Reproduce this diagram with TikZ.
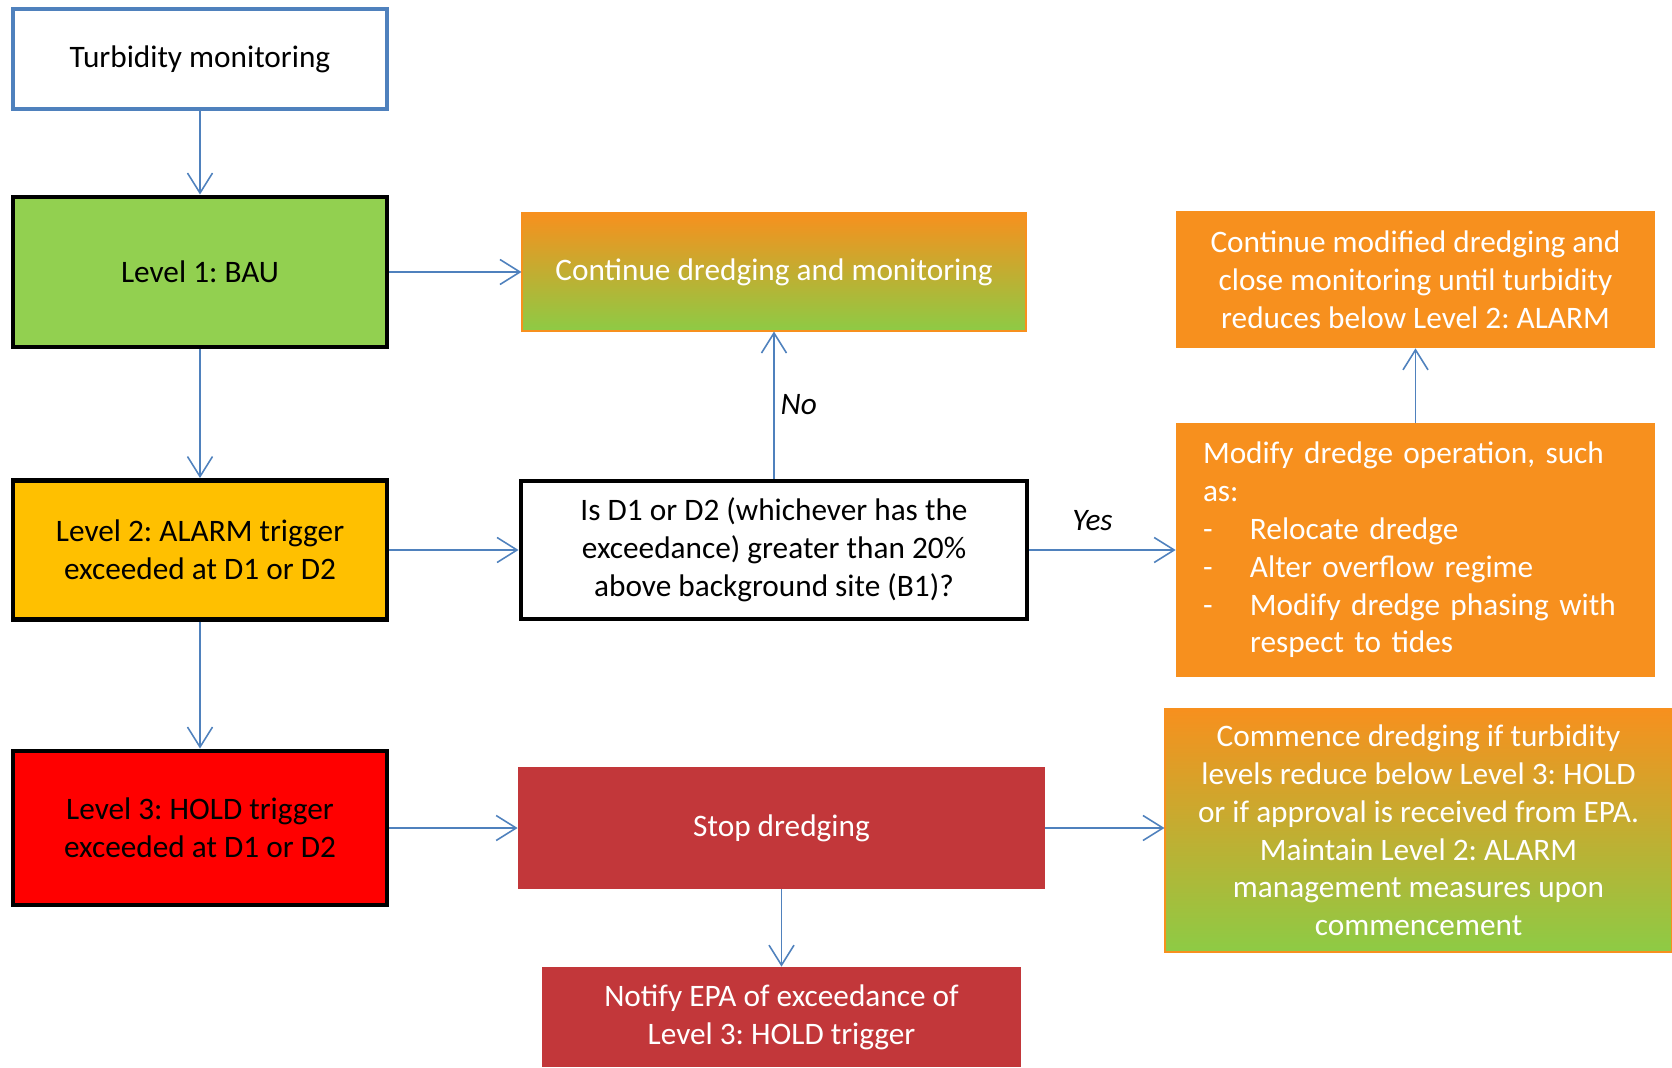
\documentclass[tikz,border=0pt]{standalone}
\usepackage{fontspec}
\setmainfont{Carlito}
\frenchspacing
\usetikzlibrary{arrows.meta}
\definecolor{lineblue}{HTML}{4F81BD}
\definecolor{bauGreen}{HTML}{92D050}
\definecolor{alarmAmber}{HTML}{FFC000}
\definecolor{holdRed}{HTML}{FF0000}
\definecolor{actOrange}{HTML}{F7901E}
\definecolor{actGreen}{HTML}{8DCB45}
\definecolor{stopRed}{HTML}{C2373A}
\tikzstyle{monitor} = [rectangle, minimum width = 7.48cm, minimum height = 2cm, text centered, draw = lineblue, line width = 2.3pt, fill = white]
\tikzstyle{level} = [rectangle, minimum width = 7.48cm, align = center, draw = black, line width = 2.8pt]
\tikzstyle{question} = [rectangle, minimum width = 10.12cm, minimum height = 2.76cm, align = center, draw = black, line width = 2.8pt, fill = white]
\tikzstyle{goon} = [rectangle, top color = actOrange, middle color = actOrange!55!actGreen, bottom color = actGreen, draw = actOrange, line width = 0.6pt, text = white, align = center]
\tikzstyle{modify} = [rectangle, minimum width = 9.58cm, fill = actOrange, text = white]
\tikzstyle{halt} = [rectangle, fill = stopRed, text = white, align = center]
\tikzstyle{arrow} = [draw = lineblue, line width = 0.9pt, -{Straight Barb[length = 0.4cm, width = 0.5cm]}]

\begin{document}
\begin{tikzpicture}[node distance = 5.56cm, font = \fontsize{17.8}{21.5}\selectfont]
    \useasboundingbox (0,0) rectangle (33.44,-21.36);
    % levels on the left
    \node(turb)[monitor] at (4,-1.18){Turbidity monitoring};
    \node(lvl1)[level, fill = bauGreen, minimum height = 3cm, below of = turb, yshift = 1.3cm]{Level 1: BAU};
    \node(lvl2)[level, fill = alarmAmber, minimum height = 2.78cm, below of = lvl1]{Level 2: ALARM trigger\\exceeded at D1 or D2};
    \node(lvl3)[level, fill = holdRed, minimum height = 3.08cm, below of = lvl2]{Level 3: HOLD trigger\\exceeded at D1 or D2};
    % actions
    \node(cont)[goon, minimum width = 10.08cm, minimum height = 2.36cm, right of = lvl1, xshift = 5.92cm]{Continue dredging and monitoring};
    \node(dec)[question, below of = cont]{Is D1 or D2 (whichever has the\\exceedance) greater than 20\%\\above background site (B1)?};
    \node(stop)[halt, minimum width = 10.54cm, minimum height = 2.44cm, below of = dec, xshift = 0.15cm]{Stop dredging};
    \node(notify)[halt, minimum width = 9.58cm, minimum height = 2cm, below of = stop, yshift = 1.78cm]{Notify EPA of exceedance of\\Level 3: HOLD trigger};
    \node(topr)[modify, align = center, minimum height = 2.74cm, right of = cont, xshift = 7.27cm, yshift = -0.15cm]{Continue modified dredging and\\close monitoring until turbidity\\reduces below Level 2: ALARM};
    \node(mod)[modify, minimum height = 5.08cm, text width = 8.5cm, inner xsep = 0.54cm, align = left, below of = topr, yshift = 0.15cm]{Modify dredge operation, such\\as:\\\makebox[0.94cm][l]{-}Relocate dredge\\\makebox[0.94cm][l]{-}Alter overflow regime\\\makebox[0.94cm][l]{-}Modify dredge phasing with\\\hspace*{0.94cm}respect to tides};
    \node(comm)[goon, minimum width = 10.14cm, minimum height = 4.86cm, below of = mod, xshift = 0.06cm, yshift = -0.05cm]{Commence dredging if turbidity\\levels reduce below Level 3: HOLD\\or if approval is received from EPA.\\Maintain Level 2: ALARM\\management measures upon\\commencement};

    \draw[arrow](turb)--(lvl1);
    \draw[arrow](lvl1)--(lvl2);
    \draw[arrow](lvl2)--(lvl3);
    \draw[arrow](lvl1)--(cont);
    \draw[arrow](lvl2.east)--(lvl2.east -| dec.west);
    \draw[arrow](dec)--node[right]{\itshape No}(cont);
    \draw[arrow](dec.east)--node[above, xshift = -0.2cm, yshift = 0.25cm]{\itshape Yes}(dec.east -| mod.west);
    \draw[arrow](mod)--(topr);
    \draw[arrow](lvl3)--(stop);
    \draw[arrow](stop.east)--(stop.east -| comm.west);
    \draw[arrow](stop)--(notify);
\end{tikzpicture}
\end{document}
